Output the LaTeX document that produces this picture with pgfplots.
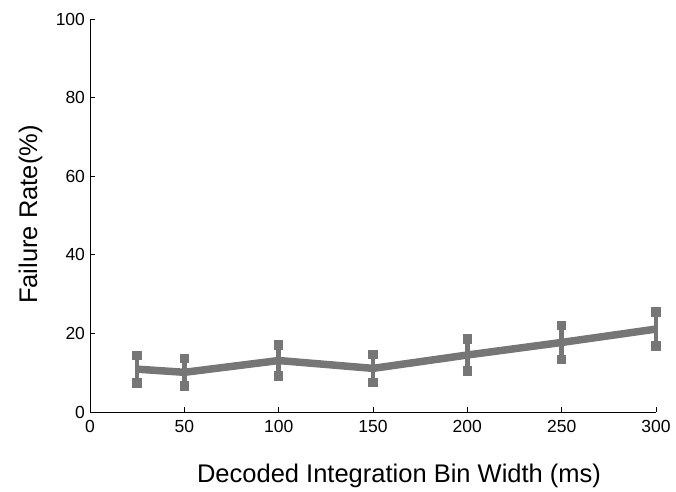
\documentclass[border=0pt]{standalone}
\usepackage{fontspec}
\setmainfont{Liberation Sans}
\usepackage{pgfplots}
\pgfplotsset{compat=1.18}
\definecolor{linegray}{RGB}{118,118,118}
\begin{document}
\begin{tikzpicture}
\path (0,0) rectangle (676pt,491pt);
\begin{axis}[
  at={(90pt,79pt)}, anchor=south west,
  scale only axis,
  width=566pt, height=393pt,
  xmin=0, xmax=300, ymin=0, ymax=100,
  axis x line=bottom, axis y line=left,
  axis line style={-, line width=0.8pt},
  tick align=inside,
  major tick length=5pt,
  tick style={line width=0.8pt, black},
  xtick={0,50,100,150,200,250,300},
  ytick={0,20,40,60,80,100},
  /pgf/number format/assume math mode=true,
  every tick label/.append style={font=\fontsize{17.5}{18}\selectfont},
  xticklabel style={yshift=-4.5pt},
  yticklabel style={xshift=-1.5pt},
  xlabel={Decoded Integration Bin Width (ms)},
  ylabel={Failure Rate(\%)},
  every axis label/.append style={font=\fontsize{25.5}{26}\selectfont},
  xlabel style={at={(axis description cs:0.546,-0.180)}, anchor=base},
  ylabel style={at={(axis description cs:-0.0936,0.5025)}, anchor=base, rotate=0},
  clip=false,
]
\addplot[
  color=linegray, line width=7.5pt, line join=round,
  error bars/.cd, y dir=both, y explicit,
  error bar style={line width=4.5pt, color=linegray},
  error mark=square*,
  error mark options={mark size=4.2pt, line width=0pt, fill=linegray, draw=none},
] coordinates {
  (25,10.9) +- (0,3.55)
  (50,10.1) +- (0,3.5)
  (100,13.1) +- (0,3.9)
  (150,11.1) +- (0,3.6)
  (200,14.5) +- (0,4.1)
  (250,17.7) +- (0,4.3)
  (300,21.1) +- (0,4.3)
};
\end{axis}
\end{tikzpicture}
\end{document}
